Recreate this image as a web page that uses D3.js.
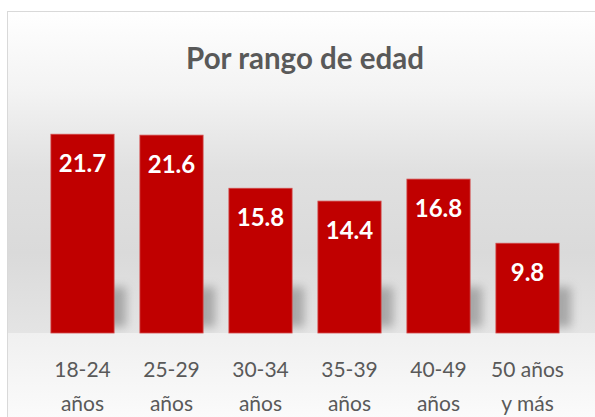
<!DOCTYPE html>
<html>
<head>
<meta charset="utf-8">
<script src="https://cdn.jsdelivr.net/npm/d3@7"></script>
<style>
  body { margin: 0; background: #ffffff; }
  svg { display: block; font-family: Lato, "Open Sans", sans-serif; }
</style>
</head>
<body>
<div id="bar_chart"></div>
<script>
// data
var categories = ["18-24\naños", "25-29\naños", "30-34\naños", "35-39\naños", "40-49\naños", "50 años\ny más"];
var values = [21.7, 21.6, 15.8, 14.4, 16.8, 9.8];
var title = "Por rango de edad";

var W = 595, H = 417;
var margin = {top: 104, right: 23, bottom: 84, left: 38},
    width = W - margin.left - margin.right,
    height = H - margin.top - margin.bottom;
var base = margin.top + height;

var data = categories.map(function(c, i) { return {group: c, value: values[i]}; });

var svg = d3.select("#bar_chart")
  .append("svg")
    .attr("width", W)
    .attr("height", H);

var defs = svg.append("defs");

// chart background gradient (above the baseline)
var bg = defs.append("linearGradient")
    .attr("id", "bgGrad")
    .attr("gradientUnits", "userSpaceOnUse")
    .attr("x1", 0).attr("y1", 11).attr("x2", 0).attr("y2", base);
bg.append("stop").attr("offset", "0%").attr("stop-color", "#ffffff");
bg.append("stop").attr("offset", "25%").attr("stop-color", "#f3f3f3");
bg.append("stop").attr("offset", "50%").attr("stop-color", "#e0e0e0");
bg.append("stop").attr("offset", "75%").attr("stop-color", "#dadada");
bg.append("stop").attr("offset", "100%").attr("stop-color", "#e4e4e4");

// floor below the baseline
var fl = defs.append("linearGradient")
    .attr("id", "floorGrad")
    .attr("x1", 0).attr("y1", 0).attr("x2", 0).attr("y2", 1);
fl.append("stop").attr("offset", "0%").attr("stop-color", "#f0f0f0");
fl.append("stop").attr("offset", "100%").attr("stop-color", "#fcfcfc");

var blur = defs.append("filter")
    .attr("id", "shadowBlur")
    .attr("x", "-50%").attr("y", "-50%")
    .attr("width", "200%").attr("height", "200%");
blur.append("feGaussianBlur").attr("stdDeviation", 5);

defs.append("clipPath")
    .attr("id", "aboveBase")
  .append("rect")
    .attr("x", 0).attr("y", -margin.top)
    .attr("width", W).attr("height", margin.top + height);

svg.append("rect")
    .attr("x", 7.5)
    .attr("y", 11.5)
    .attr("width", W + 10)
    .attr("height", base - 11.5)
    .attr("fill", "url(#bgGrad)");

svg.append("rect")
    .attr("x", 7.5)
    .attr("y", base)
    .attr("width", W + 10)
    .attr("height", H - base + 10)
    .attr("fill", "url(#floorGrad)");

svg.append("rect")
    .attr("x", 7.5)
    .attr("y", 11.5)
    .attr("width", W + 10)
    .attr("height", H + 10)
    .attr("fill", "none")
    .attr("stroke", "#d9d9d9")
    .attr("stroke-width", 1);

var g = svg.append("g")
    .attr("transform", "translate(" + margin.left + "," + margin.top + ")");

var x = d3.scaleBand()
  .domain(data.map(function(d) { return d.group; }))
  .range([0, width])
  .paddingInner(0.29)
  .paddingOuter(0.145);

var y = d3.scaleLinear()
  .domain([0, 25])
  .range([height, 0]);

// soft shadows behind the bars
g.append("g")
    .attr("clip-path", "url(#aboveBase)")
  .selectAll(".shadow")
  .data(data)
  .enter()
  .append("rect")
    .attr("class", "shadow")
    .attr("x", function(d) { return x(d.group) + 12; })
    .attr("y", height - 46)
    .attr("width", x.bandwidth())
    .attr("height", 40)
    .attr("fill", "#8f8f8f")
    .attr("opacity", 0.7)
    .attr("filter", "url(#shadowBlur)");

// bars
g.selectAll(".bar")
  .data(data)
  .enter()
  .append("rect")
    .attr("class", "bar")
    .attr("x", function(d) { return x(d.group); })
    .attr("y", function(d) { return y(d.value); })
    .attr("width", x.bandwidth())
    .attr("height", function(d) { return height - y(d.value); })
    .attr("fill", "#c00000")
    .attr("stroke", "#d24a4a")
    .attr("stroke-width", 0.8);

// value labels
g.selectAll(".val")
  .data(data)
  .enter()
  .append("text")
    .attr("class", "val")
    .attr("text-anchor", "middle")
    .attr("x", function(d) { return x(d.group) + x.bandwidth() / 2; })
    .attr("y", function(d) { return y(d.value) + 38; })
    .style("font-size", "24px")
    .style("font-weight", "bold")
    .attr("fill", "#ffffff")
    .text(function(d) { return d.value.toFixed(1); });

// x axis labels (no axis line)
var xAxis = g.append("g")
    .attr("transform", "translate(0," + height + ")")
    .call(d3.axisBottom(x).tickSize(0).tickFormat(""));
xAxis.select(".domain").remove();

xAxis.selectAll(".tick")
  .append("text")
    .attr("text-anchor", "middle")
    .attr("fill", "#595959")
    .style("font-size", "21px")
    .style("font-family", "Lato, 'Open Sans', sans-serif")
    .each(function(d) {
      var lines = d.split("\n");
      var t = d3.select(this);
      lines.forEach(function(l, i) {
        t.append("tspan")
          .attr("x", 0)
          .attr("y", 44 + i * 34)
          .text(l);
      });
    });

// title
svg.append("text")
    .attr("text-anchor", "middle")
    .attr("x", 305)
    .attr("y", 69)
    .style("font-size", "29.5px")
    .style("font-weight", "bold")
    .attr("fill", "#595959")
    .text(title);
</script>
</body>
</html>
